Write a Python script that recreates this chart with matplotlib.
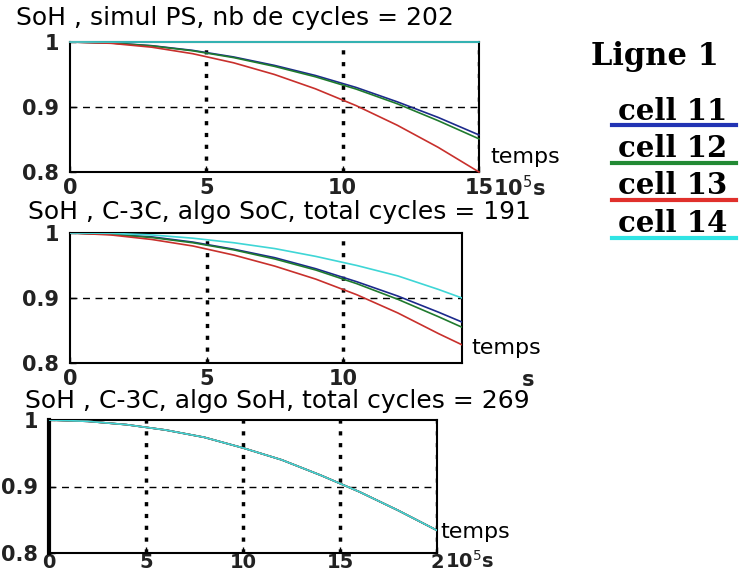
import matplotlib
matplotlib.use('Agg')
import matplotlib.pyplot as plt

## donnees

# panneau 1 : simul PS
t1 = [0, 1.5, 3, 4.5, 6, 7.5, 9, 10.5, 12, 13.5, 15]
p1_cell11 = [1, 0.9986, 0.9943, 0.9871, 0.977, 0.964, 0.9485, 0.930, 0.908, 0.884, 0.857]
p1_cell12 = [1, 0.9985, 0.994, 0.9865, 0.976, 0.9625, 0.9465, 0.9275, 0.905, 0.879, 0.851]
p1_cell13 = [1, 0.998, 0.992, 0.982, 0.968, 0.950, 0.928, 0.902, 0.872, 0.838, 0.800]
p1_cell14 = [1, 1, 1, 1, 1, 1, 1, 1, 1, 1, 1]

# panneau 2 : C-3C, algo SoC
t2 = [0, 1.5, 3, 4.5, 6, 7.5, 9, 10.5, 12, 13.5, 14.35]
p2_cell11 = [1, 0.998, 0.994, 0.986, 0.975, 0.962, 0.945, 0.925, 0.903, 0.878, 0.863]
p2_cell12 = [1, 0.998, 0.993, 0.985, 0.974, 0.960, 0.943, 0.922, 0.898, 0.871, 0.855]
p2_cell13 = [1, 0.997, 0.990, 0.980, 0.966, 0.949, 0.929, 0.905, 0.877, 0.845, 0.828]
p2_cell14 = [1, 0.9995, 0.997, 0.992, 0.985, 0.976, 0.964, 0.950, 0.934, 0.913, 0.900]

# panneau 3 : C-3C, algo SoH (les 4 cellules confondues)
t3 = [0, 2, 4, 6, 8, 10, 12, 14, 16, 18, 20]
p3_soh = [1, 0.998, 0.993, 0.985, 0.974, 0.958, 0.940, 0.917, 0.892, 0.864, 0.834]

titres = ['SoH , simul PS, nb de cycles = 202',
          'SoH , C-3C, algo SoC, total cycles = 191',
          'SoH , C-3C, algo SoH, total cycles = 269']
cellules = ['cell 11', 'cell 12', 'cell 13', 'cell 14']
couleurs = ['#1c2a8c', '#1f7a2e', '#c8302c', '#3fd6d6']
couleurs_leg = ['#2234b4', '#228a34', '#e0302c', '#30e4e4']

W, H = 740, 574
fig = plt.figure(figsize=(W / 100, H / 100), dpi=100)
fig.patch.set_facecolor('white')


def fx(px):
    return px / W


def fy(py):
    return 1 - py / H


def prepare(ax, xmax, xticks, xlabels, vgrid, xpad=4):
    ax.set_xlim(0, xmax)
    ax.set_ylim(0.8, 1)
    ax.set_xticks(xticks)
    ax.set_xticklabels(xlabels)
    ax.set_yticks([0.8, 0.9, 1])
    ax.set_yticklabels(['0.8', '0.9', '1'])
    ax.tick_params(direction='in', length=4, width=1, labelsize=15)
    ax.tick_params(axis='x', pad=xpad)
    ax.tick_params(axis='y', pad=8)
    for lab in ax.get_xticklabels() + ax.get_yticklabels():
        lab.set_fontweight('bold')
        lab.set_color('#222222')
    for s in ax.spines.values():
        s.set_linewidth(1.5)
    # grille : pointilles verticaux, tirets horizontaux
    for xv in vgrid:
        ax.axvline(xv, color='black', lw=2.5, ls=(0, (1.2, 2.2)), zorder=1)
    ax.axhline(0.9, color='black', lw=1, ls=(0, (5, 4)), zorder=1)


## panneau 1
ax1 = fig.add_axes([fx(70), fy(172), fx(409), 130 / H])
prepare(ax1, 15, [0, 5, 10, 15], ['0', '5', '10', '15'], [5, 10, 15])
for y, c in zip([p1_cell11, p1_cell12, p1_cell13, p1_cell14], couleurs):
    ax1.plot(t1, y, color=c, lw=1.2, zorder=3, clip_on=False)
fig.text(fx(16), fy(18), titres[0], fontsize=18, va='center', ha='left')
fig.text(fx(490), fy(157), 'temps', fontsize=16, va='center')
fig.text(fx(493), fy(188), r'10$^5$s', fontsize=15, va='center', fontweight='bold',
         color='#222222')

## panneau 2
ax2 = fig.add_axes([fx(70), fy(363), fx(392), 130 / H])
prepare(ax2, 14.35, [0, 5, 10], ['0', '5', '10'], [5, 10])
for y, c in zip([p2_cell11, p2_cell12, p2_cell13, p2_cell14], couleurs):
    ax2.plot(t2, y, color=c, lw=1.2, zorder=3)
fig.text(fx(28), fy(212), titres[1], fontsize=18, va='center', ha='left')
fig.text(fx(471), fy(348), 'temps', fontsize=16, va='center')
fig.text(fx(522), fy(380), 's', fontsize=15, va='center', fontweight='bold',
         color='#222222')

## panneau 3
ax3 = fig.add_axes([fx(49), fy(553), fx(388), 133 / H])
prepare(ax3, 20, [0, 5, 10, 15, 20], ['0', '5', '10', '15', '2'], [5, 10, 15, 20],
        xpad=0)
ax3.tick_params(axis='x', labelsize=14)
ax3.spines['left'].set_linewidth(3)
for c in couleurs:
    ax3.plot(t3, p3_soh, color=c, lw=1.2, zorder=3)
fig.text(fx(25), fy(401), titres[2], fontsize=18, va='center', ha='left')
fig.text(fx(440), fy(532), 'temps', fontsize=16, va='center')
fig.text(fx(445), fy(561), r'10$^5$s', fontsize=14, va='center', fontweight='bold',
         color='#222222')

## legende a droite
fig.text(fx(655), fy(56), 'Ligne 1', fontsize=22, fontweight='bold',
         family='DejaVu Serif', ha='center', va='center')
for i, (nom, c) in enumerate(zip(cellules, couleurs_leg)):
    yc = 111 + i * 37.5
    fig.text(fx(673), fy(yc), nom, fontsize=21, fontweight='bold',
             family='DejaVu Serif', ha='center', va='center')
    fig.add_artist(plt.Line2D([fx(612), fx(736)], [fy(yc + 14), fy(yc + 14)],
                              color=c, lw=3, transform=fig.transFigure))

fig.savefig('out.png', dpi=100)
